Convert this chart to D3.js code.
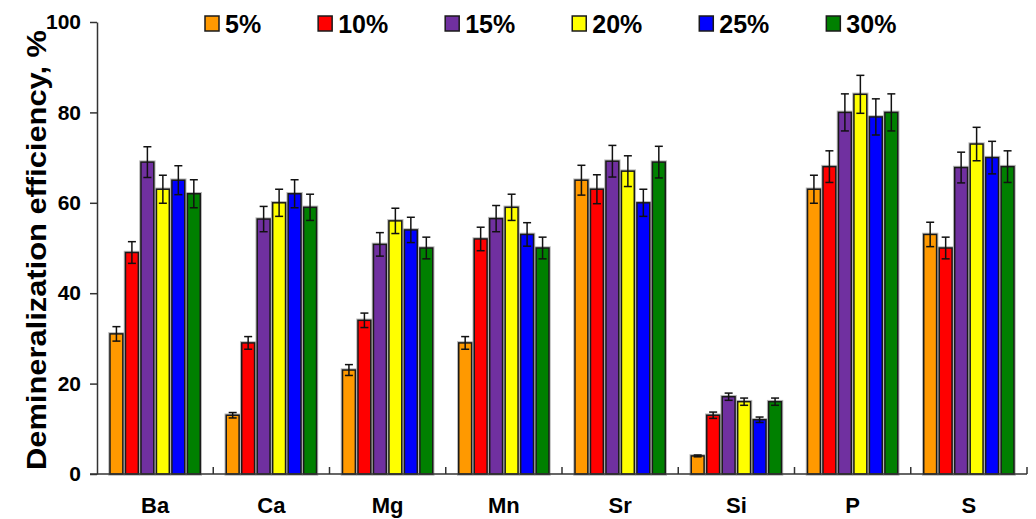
<!DOCTYPE html>
<html>
<head>
<meta charset="utf-8">
<script src="https://cdn.jsdelivr.net/npm/d3@7"></script>
<style>
  html, body { margin: 0; padding: 0; background: #fff; }
  svg { display: block; font-family: "Liberation Sans", Arial, sans-serif; }
</style>
</head>
<body>
<svg id="chart" width="1036" height="519"></svg>
<script>
// Elements and acid concentrations
const elements = ["Ba", "Ca", "Mg", "Mn", "Sr", "Si", "P", "S"];
const concentrations = ["5%", "10%", "15%", "20%", "25%", "30%"];
const seriesColors = ["#FF9900", "#FF0000", "#7030A0", "#FFFF00", "#0000FF", "#008000"];

// Demineralization efficiency (%) for each concentration, one entry per element
const eff5  = [31, 13, 23, 29, 65, 4, 63, 53];
const eff10 = [49, 29, 34, 52, 63, 13, 68, 50];
const eff15 = [69, 56.4, 50.8, 56.5, 69.2, 17.1, 80, 67.8];
const eff20 = [63, 60, 56, 59, 67, 16, 84, 73];
const eff25 = [65, 62, 54, 53, 60, 12, 79, 70];
const eff30 = [62, 59, 50, 50, 69, 16, 80, 68];

// Standard deviations
const err5  = [1.6, 0.6, 1.2, 1.4, 3.3, 0.2, 3.1, 2.7];
const err10 = [2.4, 1.4, 1.6, 2.6, 3.2, 0.7, 3.5, 2.4];
const err15 = [3.4, 2.8, 2.6, 2.9, 3.5, 0.8, 4.1, 3.4];
const err20 = [3.1, 3.0, 2.8, 2.9, 3.4, 0.8, 4.2, 3.7];
const err25 = [3.2, 3.1, 2.8, 2.6, 3.0, 0.6, 4.0, 3.6];
const err30 = [3.1, 2.9, 2.4, 2.4, 3.5, 0.8, 4.1, 3.5];

const yTicks = [0, 20, 40, 60, 80, 100];
const yTitle = "Demineralization efficiency, %";

const values = [eff5, eff10, eff15, eff20, eff25, eff30];
const errors = [err5, err10, err15, err20, err25, err30];

const data = [];
elements.forEach((el, i) => {
  concentrations.forEach((c, j) => {
    data.push({ el, c, j, v: values[j][i], e: errors[j][i] });
  });
});

const svg = d3.select("#chart");
const plotLeft = 97, plotRight = 1027, plotTop = 22, plotBottom = 474;

const x0 = d3.scaleBand().domain(elements).range([plotLeft, plotRight]).paddingInner(0).paddingOuter(0);
const x1 = d3.scaleBand().domain(concentrations).range([0, x0.bandwidth()])
  .paddingInner(0.17).paddingOuter(0.84);
const y = d3.scaleLinear().domain([0, 100]).range([plotBottom, plotTop]);

const font = "\"Liberation Sans\", Arial, sans-serif";

// Bars: soft grey halo underneath, then the filled bar with a dark outline
const bars = svg.append("g");
bars.selectAll("rect.halo").data(data).join("rect")
  .attr("class", "halo")
  .attr("x", d => x0(d.el) + x1(d.c))
  .attr("y", d => y(d.v))
  .attr("width", x1.bandwidth())
  .attr("height", d => y(0) - y(d.v))
  .attr("fill", "none")
  .attr("stroke", "#b8b8b8")
  .attr("stroke-width", 3.5);
bars.selectAll("rect.bar").data(data).join("rect")
  .attr("class", "bar")
  .attr("x", d => x0(d.el) + x1(d.c))
  .attr("y", d => y(d.v))
  .attr("width", x1.bandwidth())
  .attr("height", d => y(0) - y(d.v))
  .attr("fill", d => seriesColors[d.j])
  .attr("stroke", "#1a1a1a")
  .attr("stroke-width", 1.5);

// Error bars
const capHalf = 4;
const eb = svg.append("g").selectAll("g").data(data).join("g")
  .attr("transform", d => `translate(${x0(d.el) + x1(d.c) + x1.bandwidth() / 2},0)`);
eb.append("line")
  .attr("x1", 0).attr("x2", 0)
  .attr("y1", d => y(d.v + d.e)).attr("y2", d => y(d.v - d.e))
  .attr("stroke", "#111").attr("stroke-width", 1.5);
eb.append("line")
  .attr("x1", -capHalf).attr("x2", capHalf)
  .attr("y1", d => y(d.v + d.e)).attr("y2", d => y(d.v + d.e))
  .attr("stroke", "#111").attr("stroke-width", 1.5);
eb.append("line")
  .attr("x1", -capHalf).attr("x2", capHalf)
  .attr("y1", d => y(d.v - d.e)).attr("y2", d => y(d.v - d.e))
  .attr("stroke", "#111").attr("stroke-width", 1.5);

// Y axis
const yAxis = svg.append("g")
  .attr("transform", `translate(${plotLeft},0)`)
  .call(d3.axisLeft(y).tickValues(yTicks).tickSize(7).tickPadding(9).tickSizeOuter(0));
yAxis.select(".domain").attr("stroke", "#333").attr("stroke-width", 1.5);
yAxis.selectAll(".tick line").attr("stroke", "#333").attr("stroke-width", 1.5);
yAxis.selectAll(".tick text")
  .attr("font-family", font).attr("font-size", 21).attr("font-weight", "bold").attr("fill", "#000");

// X axis: baseline with small upward ticks at the category boundaries
const xg = svg.append("g");
xg.append("line")
  .attr("x1", plotLeft - 7).attr("x2", plotRight)
  .attr("y1", y(0)).attr("y2", y(0))
  .attr("stroke", "#333").attr("stroke-width", 1.5);
const boundaries = elements.map(e => x0(e)).concat([x0(elements[elements.length - 1]) + x0.bandwidth()]);
xg.selectAll("line.tick").data(boundaries.slice(1)).join("line")
  .attr("class", "tick")
  .attr("x1", d => d).attr("x2", d => d)
  .attr("y1", y(0)).attr("y2", y(0) - 7)
  .attr("stroke", "#333").attr("stroke-width", 1.5);
xg.selectAll("text").data(elements).join("text")
  .attr("x", d => x0(d) + x0.bandwidth() / 2)
  .attr("y", 513)
  .attr("text-anchor", "middle")
  .attr("font-family", font).attr("font-size", 22).attr("font-weight", "bold")
  .text(d => d);

// Y axis title, stretched to span the full axis height
svg.append("text")
  .attr("transform", "translate(46,250) rotate(-90)")
  .attr("text-anchor", "middle")
  .attr("font-family", font).attr("font-size", 28).attr("font-weight", "bold")
  .attr("textLength", 440).attr("lengthAdjust", "spacingAndGlyphs")
  .text(yTitle);

// Legend laid out in a single row
const legend = svg.append("g");
let lx = 205;
concentrations.forEach((c, j) => {
  legend.append("rect")
    .attr("x", lx).attr("y", 16).attr("width", 14).attr("height", 15)
    .attr("fill", seriesColors[j]).attr("stroke", "#1a1a1a").attr("stroke-width", 1.5);
  const t = legend.append("text")
    .attr("x", lx + 20).attr("y", 33)
    .attr("font-family", font).attr("font-size", 25).attr("font-weight", "bold")
    .text(c);
  lx = lx + 20 + t.node().getComputedTextLength() + 57;
});
</script>
</body>
</html>
